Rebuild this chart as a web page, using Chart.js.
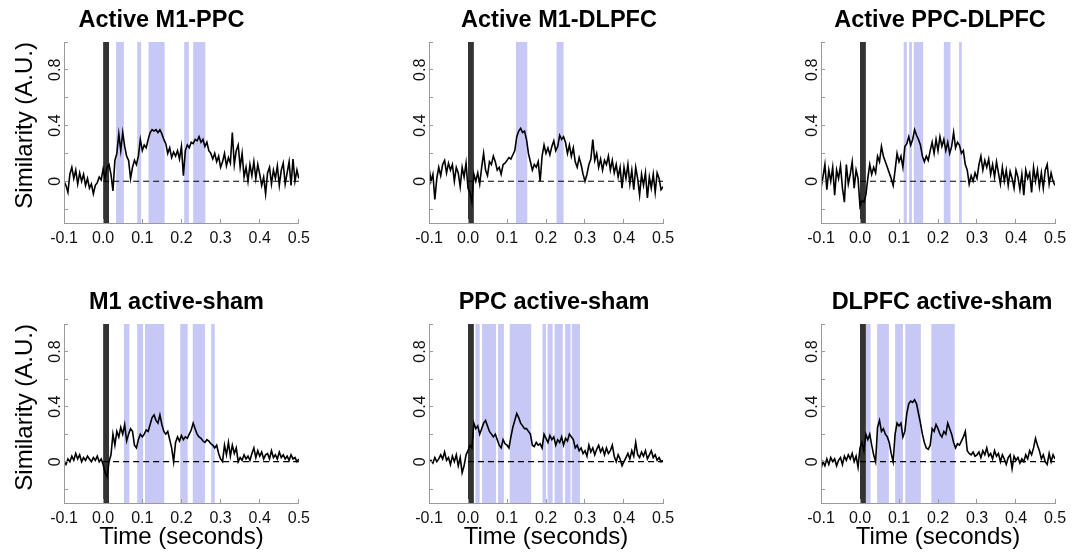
<!DOCTYPE html>
<html>
<head>
<meta charset="utf-8">
<script src="https://cdn.jsdelivr.net/npm/chart.js@4.4.0/dist/chart.umd.min.js"></script>
<style>
    html, body { margin: 0; padding: 0; background: #fff; }
    body { width: 1081px; height: 552px; position: relative; overflow: hidden; }
    canvas { position: absolute; }
</style>
</head>
<body>
<script>
// sampling grid of every trace (seconds)
const sampleStart = -0.1
const sampleStep = 0.005

const titles = ["Active M1-PPC", "Active M1-DLPFC", "Active PPC-DLPFC", "M1 active-sham", "PPC active-sham", "DLPFC active-sham"]

const m1Ppc = [0.0,-0.03,-0.08,0.05,0.1,0.02,0.08,-0.02,0.06,0.0, 0.05,-0.03,0.02,-0.05,-0.02,-0.09,-0.03,-0.01,0.03,0.01,
    0.09,0.02,0.1,0.12,0.05,-0.07,0.15,0.2,0.34,0.22, 0.35,0.25,0.18,0.15,0.02,0.1,0.15,0.12,0.18,0.3,
    0.22,0.26,0.24,0.3,0.35,0.37,0.36,0.37,0.35,0.37, 0.34,0.3,0.27,0.2,0.24,0.17,0.21,0.18,0.22,0.16,
    0.25,0.04,0.22,0.26,0.24,0.28,0.27,0.3,0.29,0.32, 0.28,0.3,0.25,0.28,0.22,0.2,0.16,0.2,0.14,0.18,
    0.1,0.14,0.2,0.11,0.17,0.13,0.35,0.12,0.22,0.26, 0.1,0.2,0.03,0.1,0.0,0.12,0.04,0.14,0.02,0.12,
    0.05,-0.03,0.03,-0.09,0.06,0.1,-0.02,0.08,0.02,0.11, -0.03,0.08,0.13,-0.02,0.06,0.14,-0.03,0.16,0.0,0.08, 0.02]
const m1Dlpfc = [0.1,0.0,0.05,-0.13,0.02,0.1,0.04,0.12,0.15,0.06, 0.13,0.08,0.12,0.0,0.1,0.06,-0.04,0.1,0.03,0.13,
    -0.05,-0.08,-0.15,0.05,0.0,0.06,-0.02,0.1,0.2,0.08, 0.04,0.14,0.12,0.18,0.14,0.08,0.1,0.05,0.12,0.13,
    0.15,0.17,0.16,0.19,0.22,0.32,0.36,0.38,0.35,0.36, 0.3,0.2,0.14,0.08,0.12,0.1,0.14,0.0,0.18,0.26,
    0.2,0.24,0.19,0.25,0.29,0.22,0.25,0.33,0.3,0.32, 0.28,0.2,0.26,0.18,0.24,0.14,0.1,0.17,0.12,0.05,
    0.0,0.05,0.12,0.16,0.3,0.15,0.2,0.1,0.16,0.08, 0.15,0.12,0.18,0.08,0.15,0.06,0.12,0.03,0.1,-0.05,
    0.1,0.02,0.12,-0.02,0.08,-0.06,0.1,0.02,-0.1,0.05, -0.03,0.06,-0.12,0.03,-0.05,0.05,-0.08,0.06,0.02,-0.06, -0.04]
const ppcDlpfc = [-0.05,0.03,0.12,-0.06,0.08,0.0,0.1,-0.1,0.08,0.02, 0.11,-0.05,-0.15,0.12,-0.02,0.05,0.14,-0.05,0.08,0.02,
    -0.18,-0.14,-0.15,-0.1,0.02,0.12,0.05,0.1,0.06,0.18, 0.14,0.25,0.18,0.14,0.1,0.06,0.02,-0.03,0.08,0.2,
    0.14,0.18,0.1,0.25,0.27,0.32,0.26,0.3,0.37,0.33, 0.3,0.26,0.18,0.14,0.18,0.15,0.22,0.28,0.2,0.3,
    0.22,0.32,0.25,0.3,0.22,0.28,0.2,0.25,0.35,0.24, 0.28,0.26,0.2,0.22,0.12,0.08,-0.02,0.04,0.0,0.06,
    0.02,0.12,0.18,0.08,0.15,0.1,0.16,0.05,0.12,0.03, 0.14,0.06,-0.02,0.1,0.0,0.08,-0.03,0.07,0.02,-0.05,
    0.08,0.03,-0.06,0.05,-0.1,0.08,0.02,0.06,-0.08,0.1, 0.0,0.08,-0.04,0.06,-0.05,0.08,0.12,-0.02,0.06,0.0, -0.03]
const m1Sham = [0.0,-0.02,0.02,0.0,0.04,0.01,0.06,0.02,0.05,0.0, 0.03,0.01,0.04,0.02,0.0,0.03,0.01,0.04,0.0,0.02,
    -0.02,-0.08,-0.11,0.0,0.05,0.2,0.12,0.22,0.18,0.25, 0.2,0.27,0.15,0.2,0.24,0.22,0.12,0.1,0.16,0.2,
    0.18,0.2,0.23,0.22,0.27,0.32,0.34,0.3,0.28,0.34, 0.27,0.22,0.2,0.22,0.16,0.1,0.0,0.14,0.18,0.15,
    0.19,0.16,0.18,0.17,0.2,0.23,0.28,0.24,0.2,0.18, 0.17,0.15,0.14,0.16,0.15,0.13,0.12,0.1,0.12,0.06,
    0.02,0.0,0.12,0.05,0.14,0.04,0.12,0.06,0.1,0.0, 0.03,0.01,0.05,0.02,0.04,0.01,0.06,0.1,0.03,0.08,
    0.04,0.07,0.02,0.05,0.06,0.02,0.08,0.03,0.05,0.02, 0.07,0.03,0.05,0.02,0.04,0.01,0.05,0.02,0.03,0.0, 0.02]
const ppcSham = [0.0,0.01,-0.01,0.03,0.0,0.02,0.05,0.02,0.07,0.01, 0.03,-0.02,0.04,0.0,0.05,-0.03,0.03,-0.08,-0.03,0.05,
    0.08,0.12,0.1,0.28,0.24,0.26,0.2,0.24,0.28,0.3, 0.26,0.22,0.2,0.18,0.2,0.16,0.12,0.1,0.16,0.13,
    0.12,0.1,0.18,0.25,0.3,0.35,0.32,0.28,0.26,0.24, 0.24,0.22,0.2,0.12,0.11,0.14,0.12,0.13,0.1,0.2,
    0.17,0.14,0.19,0.16,0.18,0.12,0.16,0.14,0.18,0.12, 0.17,0.15,0.2,0.18,0.16,0.1,0.12,0.08,0.1,0.06,
    0.08,0.04,0.12,0.07,0.1,0.05,0.09,0.12,0.07,0.1, 0.05,0.1,0.06,0.08,0.12,0.04,0.0,0.05,0.02,-0.03,
    0.0,0.03,0.06,0.02,0.08,0.04,0.14,0.05,0.03,0.07, 0.04,0.08,0.02,0.05,0.08,0.03,0.05,0.01,0.03,0.0, 0.01]
const dlpfcSham = [-0.05,0.0,-0.03,0.02,-0.02,0.03,0.0,0.02,-0.03,0.01, 0.03,-0.02,0.04,0.01,0.05,0.02,0.06,0.0,0.04,-0.04,
    0.1,0.14,0.08,0.2,0.16,0.2,0.12,0.05,0.0,0.25, 0.3,0.22,0.24,0.2,0.18,0.14,0.06,0.0,0.2,0.28,
    0.26,0.28,0.18,0.22,0.35,0.42,0.44,0.43,0.45,0.42, 0.35,0.28,0.2,0.14,0.1,0.09,0.12,0.24,0.22,0.27,
    0.24,0.2,0.18,0.22,0.2,0.28,0.24,0.2,0.14,0.1, 0.13,0.12,0.15,0.18,0.22,0.08,0.06,0.05,0.07,0.04,
    0.05,0.07,0.03,0.08,0.05,0.1,0.04,0.06,0.02,0.08, 0.04,0.06,0.0,0.05,0.02,-0.02,0.03,0.05,-0.05,0.04,
    0.01,0.03,-0.01,0.02,0.0,0.05,0.02,0.08,0.05,0.1, 0.17,0.12,0.08,0.02,0.05,0.0,-0.02,0.06,0.0,0.05, 0.02]

// significant windows (seconds)
const m1PpcSpans = [[0.033, 0.053], [0.087, 0.097], [0.116, 0.157], [0.207, 0.219], [0.23, 0.261]]
const m1DlpfcSpans = [[0.123, 0.152], [0.227, 0.245]]
const ppcDlpfcSpans = [[0.112, 0.12], [0.126, 0.133], [0.138, 0.162], [0.215, 0.232], [0.254, 0.261]]
const m1ShamSpans = [[0.053, 0.067], [0.087, 0.102], [0.107, 0.156], [0.197, 0.216], [0.229, 0.26], [0.276, 0.285]]
const ppcShamSpans = [[0.019, 0.03], [0.036, 0.072], [0.077, 0.092], [0.107, 0.162], [0.191, 0.2], [0.204, 0.217], [0.222, 0.243], [0.249, 0.263], [0.266, 0.287]]
const dlpfcShamSpans = [[0.015, 0.027], [0.044, 0.074], [0.09, 0.11], [0.116, 0.156], [0.183, 0.243]]

const stimulusSpan = [0, 0.015]
const baselineSpan = [0, 0.5]
const xRange = [-0.1, 0.5]
const yRange = [-0.3, 1.0]
const yTickLabels = [0, 0.4, 0.8]

const traces = [m1Ppc, m1Dlpfc, ppcDlpfc, m1Sham, ppcSham, dlpfcSham]
const spans = [m1PpcSpans, m1DlpfcSpans, ppcDlpfcSpans, m1ShamSpans, ppcShamSpans, dlpfcShamSpans]

const FONT = "'Liberation Sans', Arial, Helvetica, sans-serif"
Chart.defaults.font.family = FONT
Chart.defaults.color = "#000"

// page layout
const cols = [
    { left: 0, width: 320, padRight: 20 },
    { left: 365, width: 320, padRight: 22 },
    { left: 757, width: 324, padRight: 26 }
]
const rows = [
    { top: 0, height: 250, xh: 27 },
    { top: 282, height: 270, xh: 49 }
]
const titleShift = [-20, 13, 2, -5, 8, 4]

const bandsPlugin = {
    id: "bands",
    beforeDatasetsDraw(chart, args, opts) {
        const { ctx, chartArea, scales: { x } } = chart
        const h = chartArea.bottom - chartArea.top
        ctx.save()
        ctx.fillStyle = "#c8c8f7"
        opts.spans.forEach(([a, b]) => {
            const x1 = x.getPixelForValue(a)
            const x2 = x.getPixelForValue(b)
            ctx.fillRect(x1, chartArea.top, x2 - x1, h)
        })
        ctx.fillStyle = "#333"
        const s1 = x.getPixelForValue(stimulusSpan[0])
        const s2 = x.getPixelForValue(stimulusSpan[1])
        ctx.fillRect(s1, chartArea.top, s2 - s1, h)
        ctx.restore()
    },
    afterDraw(chart, args, opts) {
        const { ctx, chartArea, scales: { y } } = chart
        ctx.save()
        // panel title
        ctx.font = "bold 23.5px " + FONT
        ctx.fillStyle = "#000"
        ctx.textAlign = "center"
        ctx.textBaseline = "middle"
        ctx.fillText(opts.title, (chartArea.left + chartArea.right) / 2 + opts.shift, chartArea.top - 21)
        // rotated y tick labels, like the original figure
        ctx.font = "16px " + FONT
        ctx.fillStyle = "#111"
        yTickLabels.forEach(v => {
            ctx.save()
            ctx.translate(chartArea.left - 8, y.getPixelForValue(v))
            ctx.rotate(-Math.PI / 2)
            ctx.fillText(String(v), 0, 0)
            ctx.restore()
        })
        ctx.restore()
    }
}

traces.forEach((trace, k) => {
    const col = cols[k % 3]
    const row = rows[Math.floor(k / 3)]
    const canvas = document.createElement("canvas")
    canvas.width = col.width
    canvas.height = row.height
    canvas.style.left = col.left + "px"
    canvas.style.top = row.top + "px"
    document.body.appendChild(canvas)

    const points = trace.map((v, i) => ({ x: sampleStart + i * sampleStep, y: v }))

    new Chart(canvas, {
        type: "line",
        data: {
            datasets: [
                {
                    data: points,
                    borderColor: "#000",
                    borderWidth: 1.6,
                    pointRadius: 0,
                    tension: 0
                },
                {
                    data: baselineSpan.map(t => ({ x: t, y: 0 })),
                    borderColor: "#000",
                    borderWidth: 1.2,
                    borderDash: [6, 4],
                    pointRadius: 0
                }
            ]
        },
        options: {
            responsive: false,
            animation: false,
            devicePixelRatio: 1,
            layout: { padding: { left: 0, right: col.padRight, top: 42, bottom: 0 } },
            plugins: {
                legend: { display: false },
                tooltip: { enabled: false },
                title: { display: false },
                bands: { spans: spans[k], title: titles[k], shift: titleShift[k] }
            },
            scales: {
                x: {
                    type: "linear",
                    min: xRange[0],
                    max: xRange[1],
                    afterFit: s => { s.height = row.xh },
                    border: { display: true, color: "#9a9a9a", width: 1, z: 1 },
                    grid: { drawOnChartArea: false, drawTicks: true, tickLength: -4, color: "#9a9a9a", z: 1 },
                    ticks: {
                        stepSize: 0.1,
                        padding: 10,
                        color: "#111",
                        font: { size: 16 },
                        maxRotation: 0,
                        callback: v => (Math.abs(v) < 1e-9 ? 0 : v).toFixed(1)
                    },
                    title: {
                        display: k >= 3,
                        text: "Time (seconds)",
                        color: "#000",
                        font: { size: 24 },
                        padding: { top: 0, bottom: 0 }
                    }
                },
                y: {
                    min: yRange[0],
                    max: yRange[1],
                    afterFit: s => { s.width = 64 },
                    border: { display: true, color: "#9a9a9a", width: 1, z: 1 },
                    grid: { drawOnChartArea: false, drawTicks: true, tickLength: -4, color: "#9a9a9a", z: 1 },
                    ticks: { display: false, stepSize: 0.2, includeBounds: false },
                    title: {
                        display: k % 3 === 0,
                        text: "Similarity (A.U.)",
                        align: "end",
                        color: "#000",
                        font: { size: 24 },
                        padding: { top: 11, bottom: 0 }
                    }
                }
            }
        },
        plugins: [bandsPlugin]
    })
})
</script>
</body>
</html>
